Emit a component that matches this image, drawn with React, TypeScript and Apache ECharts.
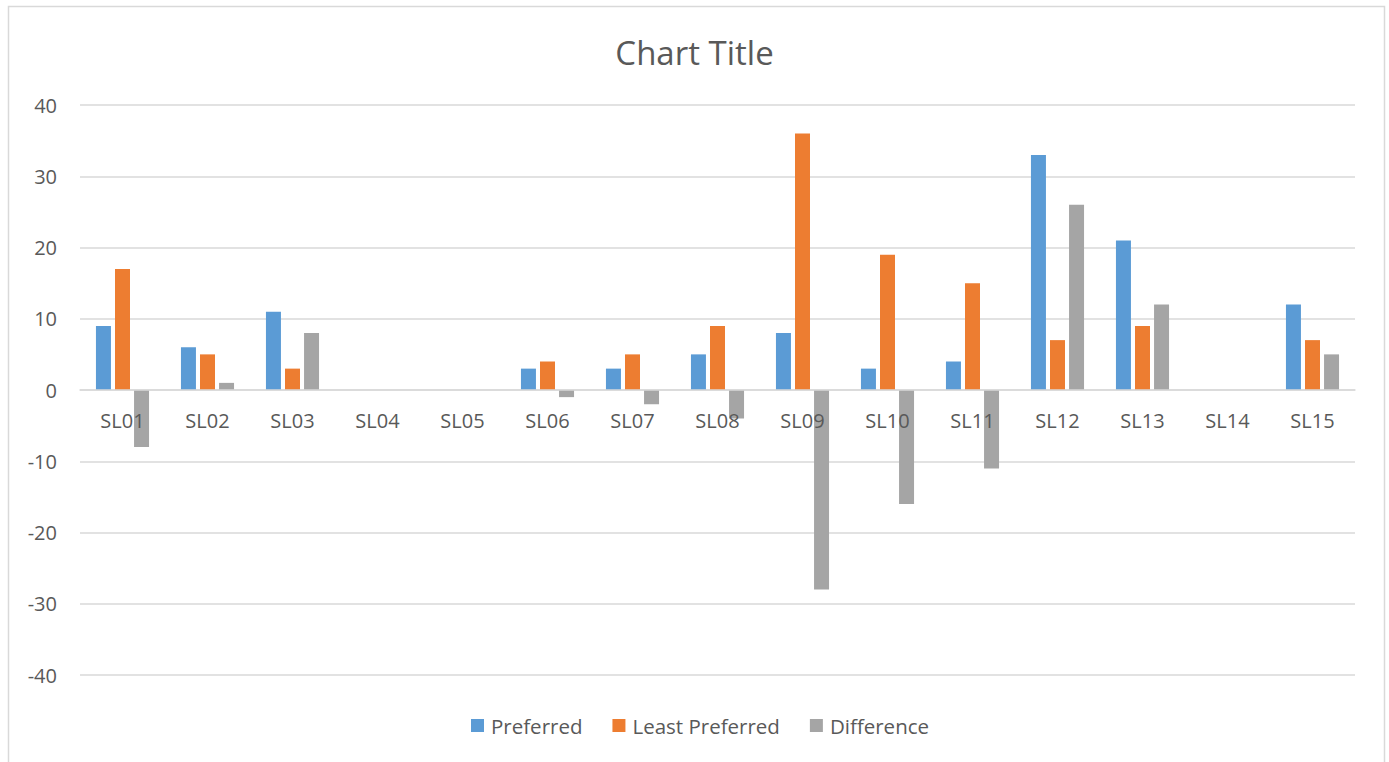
import React, { useEffect, useRef } from "react";
import * as echarts from "echarts";

const categories = ["SL01","SL02","SL03","SL04","SL05","SL06","SL07","SL08","SL09","SL10","SL11","SL12","SL13","SL14","SL15"];
const preferred = [9, 6, 11, 0, 0, 3, 3, 5, 8, 3, 4, 33, 21, 0, 12];
const leastPreferred = [17, 5, 3, 0, 0, 4, 5, 9, 36, 19, 15, 7, 9, 0, 7];
const difference = [-8, 1, 8, 0, 0, -1, -2, -4, -28, -16, -11, 26, 12, 0, 5];
const seriesNames = ["Preferred", "Least Preferred", "Difference"];
const colors = ["#5B9BD5", "#ED7D31", "#A5A5A5"];

const FONT = "'Open Sans', 'Noto Sans', sans-serif";
const TEXT = "#595959";
const GRID = "#D9D9D9";

const GRID_TOP = 105;
const GRID_BOTTOM = 87;
const CHART_H = 762;

export default function App() {
  const ref = useRef<HTMLDivElement>(null);
  useEffect(() => {
    if (!ref.current) return;
    const chart = echarts.init(ref.current, undefined, { renderer: "svg" });
    const data = [preferred, leastPreferred, difference];
    const plotH = CHART_H - GRID_TOP - GRID_BOTTOM;
    chart.setOption({
      animation: false,
      backgroundColor: "#FFFFFF",
      title: {
        text: "Chart Title",
        left: "center",
        top: 31,
        textStyle: { fontFamily: FONT, fontSize: 33, fontWeight: "normal", color: TEXT },
      },
      graphic: [
        {
          type: "rect",
          shape: { x: 8.5, y: 6.5, width: 1376, height: 800 },
          style: { fill: "none", stroke: GRID, lineWidth: 1.5 },
          silent: true,
        },
      ],
      legend: {
        data: seriesNames,
        bottom: 26,
        left: 471,
        icon: "rect",
        itemWidth: 13,
        itemHeight: 13,
        itemGap: 30,
        padding: 0,
        textStyle: { fontFamily: FONT, fontSize: 20.5, color: TEXT, padding: [0, 0, 0, 2] },
      },
      grid: { left: 80, right: 34, top: GRID_TOP, bottom: GRID_BOTTOM, containLabel: false },
      xAxis: {
        type: "category",
        data: categories,
        position: "bottom",
        offset: -plotH / 2,
        axisLine: { onZero: false, lineStyle: { color: GRID, width: 1.5 } },
        axisTick: { show: false },
        axisLabel: { fontFamily: FONT, fontSize: 20, color: TEXT, margin: 20 },
        z: 10,
      },
      yAxis: {
        type: "value",
        min: -40,
        max: 40,
        interval: 10,
        axisLine: { show: false },
        axisTick: { show: false },
        splitLine: { lineStyle: { color: GRID, width: 1.5 } },
        axisLabel: { fontFamily: FONT, fontSize: 20, color: TEXT, margin: 23 },
      },
      series: seriesNames.map((name, i) => ({
        name,
        type: "bar",
        data: data[i],
        barWidth: 15,
        barGap: "27%",
        itemStyle: { color: colors[i] },
        z: 2,
      })),
    });
    return () => chart.dispose();
  }, []);
  return (
    <div
      ref={ref}
      style={{ position: "absolute", left: 0, top: 0, width: 1389, height: 762 }}
    />
  );
}
